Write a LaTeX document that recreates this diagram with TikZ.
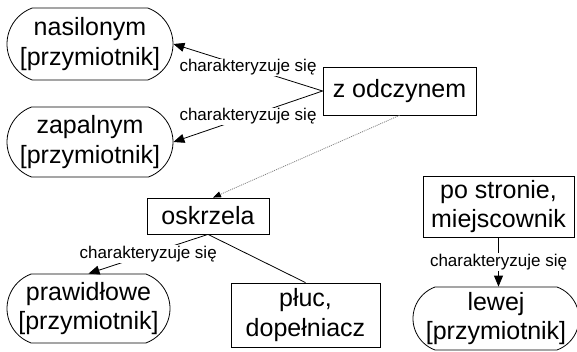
\documentclass[tikz,border=0pt]{standalone}
\usepackage{fontspec}
\setmainfont{Liberation Sans}
\usetikzlibrary{shapes.misc,arrows.meta}
\begin{document}
\begin{tikzpicture}[x=1pt,y=1pt,
  every node/.style={font=\fontsize{25}{29.5}\selectfont, align=center, inner sep=0pt},
  adj/.style={draw=black, line width=0.8pt, rounded rectangle, rounded rectangle arc length=140},
  concept/.style={draw=black, line width=0.8pt, rectangle},
  rel/.style={draw=black, line width=0.8pt, -{Triangle[length=11pt,width=9pt]}},
  plain/.style={draw=black, line width=0.8pt},
  dotrel/.style={draw=gray, line width=0.8pt, dash pattern=on 1pt off 1pt, -{Triangle[length=8pt,width=6pt,color=black]}},
  lbl/.style={font=\fontsize{17}{19}\selectfont, fill=white, inner sep=1pt}
]
\useasboundingbox (0,0) rectangle (577,-352);
\node[adj, minimum width=166, minimum height=72] (nas) at (90,-44) {nasilonym\\{[przymiotnik]}};
\node[adj, minimum width=166, minimum height=70] (zap) at (90,-142) {zapalnym\\{[przymiotnik]}};
\node[adj, minimum width=163, minimum height=69] (praw) at (88.5,-308.5) {prawidłowe\\{[przymiotnik]}};
\node[adj, minimum width=161, minimum height=63] (lew) at (496,-318.5) {lewej\\{[przymiotnik]}};
\node[concept, minimum width=153, minimum height=48] (zod) at (399.5,-91) {z odczynem};
\node[concept, minimum width=122, minimum height=36] (osk) at (208,-216) {oskrzela};
\node[concept, minimum width=149, minimum height=64] (pluc) at (305.5,-315) {płuc,\\dopełniacz};
\node[concept, minimum width=151, minimum height=61] (pos) at (498.5,-206.5) {po stronie,\\miejscownik};
\draw[rel] (zod.west) -- node[lbl, midway] {charakteryzuje się} (nas.east);
\draw[rel] (zod.west) -- node[lbl, midway] {charakteryzuje się} (zap.east);
\draw[dotrel] (zod.south) -- ([xshift=5pt]osk.north);
\draw[rel] (osk.south) -- node[lbl, midway] {charakteryzuje się} (praw.north);
\draw[plain] (osk.south) -- (pluc.north);
\draw[rel] (pos.south) -- node[lbl, midway] {charakteryzuje się} (pos.south |- lew.north);
\end{tikzpicture}
\end{document}
